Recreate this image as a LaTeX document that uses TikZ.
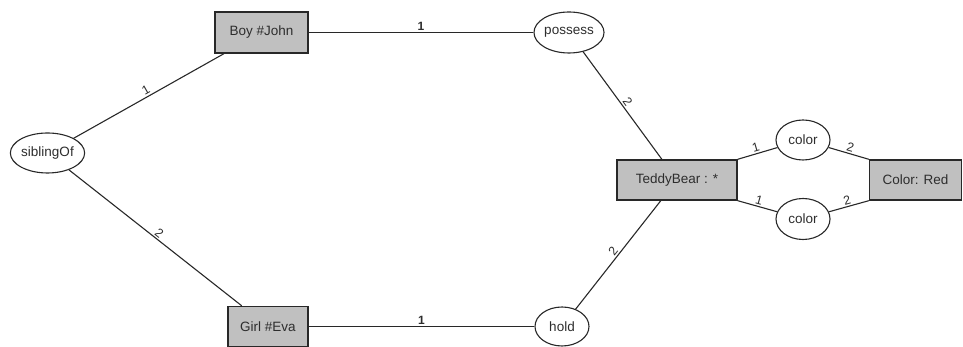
\documentclass[tikz,border=0pt]{standalone}
\usepackage{fontspec}
\setmainfont{Liberation Sans}
\usetikzlibrary{shapes.geometric}
\definecolor{boxgray}{RGB}{192,192,192}
\definecolor{edgegray}{RGB}{40,40,40}
\definecolor{textgray}{RGB}{45,45,45}
\begin{document}
\begin{tikzpicture}[x=1pt,y=1pt,
  concept/.style={draw=edgegray,line width=1.4pt,fill=boxgray,rectangle,inner sep=0pt,text=textgray,font=\fontsize{13.5}{15}\selectfont},
  relation/.style={draw=edgegray,line width=1.1pt,ellipse,inner sep=0pt,text=textgray,font=\fontsize{13.5}{15}\selectfont},
  link/.style={draw=edgegray,line width=1.1pt},
  lab/.style={font=\fontsize{12.5}{14}\selectfont,inner sep=1.5pt,text=textgray},
  hlab/.style={font=\bfseries\fontsize{12}{14}\selectfont,inner sep=1.5pt,text=textgray}]
\useasboundingbox (0,0) rectangle (963,347);
% concepts
\node[concept,minimum width=93pt,minimum height=41pt] (boy) at (261.5,314.5) {Boy \#John};
\node[concept,minimum width=80pt,minimum height=40pt] (girl) at (268,20.5) {Girl \#Eva};
\node[concept,minimum width=120pt,minimum height=40pt] (teddy) at (677,167) {TeddyBear : *};
\node[concept,minimum width=92pt,minimum height=40pt] (red) at (915.5,167) {Color: Red};
% relations
\node[relation,minimum width=68pt,minimum height=41pt] (possess) at (569,314.5) {possess};
\node[relation,minimum width=54pt,minimum height=39pt] (hold) at (562,20.5) {hold};
\node[relation,minimum width=67pt,minimum height=40pt] (sibling) at (47.5,194) {siblingOf};
\node[relation,minimum width=54pt,minimum height=40pt] (colA) at (803,207) {color};
\node[relation,minimum width=54pt,minimum height=41pt] (colB) at (803,128) {color};
% links
\draw[link] (boy) -- node[hlab,above] {1} (possess);
\draw[link] (girl) -- node[hlab,above] {1} (hold);
\draw[link] (sibling) -- node[lab,above,sloped] {1} (boy);
\draw[link] (sibling) -- node[lab,above,sloped] {2} (girl);
\draw[link] (possess) -- node[lab,above,sloped] {2} (teddy);
\draw[link] (hold) -- node[lab,above,sloped] {2} (teddy);
\draw[link] (teddy.north east) -- node[lab,above,sloped] {1} (colA);
\draw[link] (colA) -- node[lab,above,sloped] {2} (red.north west);
\draw[link] (teddy.south east) -- node[lab,above,sloped] {1} (colB);
\draw[link] (colB) -- node[lab,above,sloped] {2} (red.south west);
\end{tikzpicture}
\end{document}
